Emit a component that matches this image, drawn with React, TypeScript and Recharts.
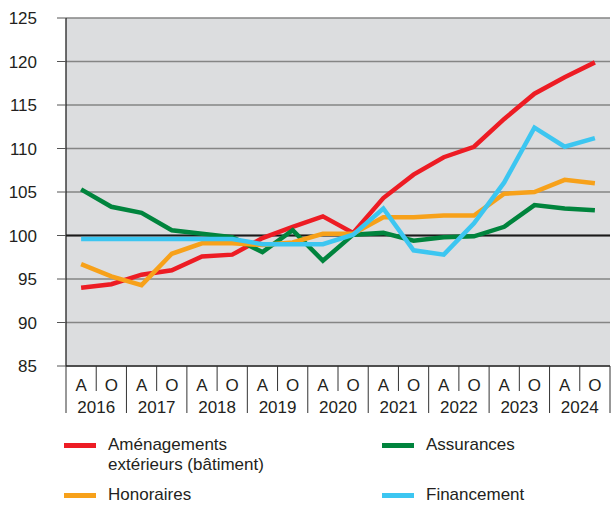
import React from "react";
import { LineChart, Line, XAxis, YAxis, CartesianGrid, ReferenceLine } from "recharts";

const years = ["2016", "2017", "2018", "2019", "2020", "2021", "2022", "2023", "2024"];
const periods = ["A", "O"];
const yTicks = [85, 90, 95, 100, 105, 110, 115, 120, 125];

const amenagements = [94.0, 94.4, 95.5, 96.0, 97.6, 97.8, 99.7, 101.0, 102.2, 100.3, 104.3, 107.0, 109.0, 110.2, 113.4, 116.3, 118.2, 119.9];
const assurances = [105.3, 103.3, 102.6, 100.6, 100.2, 99.8, 98.1, 100.6, 97.1, 100.1, 100.3, 99.4, 99.8, 99.9, 101.0, 103.5, 103.1, 102.9];
const honoraires = [96.7, 95.3, 94.3, 97.9, 99.1, 99.1, 98.9, 99.2, 100.2, 100.2, 102.1, 102.1, 102.3, 102.3, 104.8, 105.0, 106.4, 106.0];
const financement = [99.6, 99.6, 99.6, 99.6, 99.6, 99.6, 99.0, 99.0, 99.0, 100.1, 103.1, 98.3, 97.8, 101.4, 106.1, 112.4, 110.2, 111.2];

const series = [
  { key: "amenagements", name: "Aménagements extérieurs (bâtiment)", color: "#ed1c24", values: amenagements },
  { key: "assurances", name: "Assurances", color: "#00843d", values: assurances },
  { key: "honoraires", name: "Honoraires", color: "#f7a11a", values: honoraires },
  { key: "financement", name: "Financement", color: "#3cc6f1", values: financement },
];

const data = years.flatMap((y, yi) =>
  periods.map((p, pi) => {
    const i = yi * 2 + pi;
    const row: any = { key: y + "-" + p, period: p, year: y };
    series.forEach((s) => (row[s.key] = s.values[i]));
    return row;
  })
);

const W = 615;
const H = 506;
const M = { top: 18, right: 5, left: 0, bottom: 90 };
const YW = 66;
const BW = (W - YW - M.left - M.right) / data.length;
const FONT = "'Liberation Sans', Arial, sans-serif";
const TXT = "#231f20";

const XTick = (props: any) => {
  const { x, y, payload, index } = props;
  const [year, period] = String(payload.value).split("-");
  const isStart = period === "A";
  const last = index === data.length - 1;
  return (
    <g>
      <line x1={x - BW / 2} x2={x - BW / 2} y1={y} y2={y + (isStart ? 47 : 25)} stroke="#333" strokeWidth={1} />
      {last && <line x1={x + BW / 2} x2={x + BW / 2} y1={y} y2={y + 47} stroke="#333" strokeWidth={1} />}
      <text x={x} y={y + 24.7} textAnchor="middle" fontSize={17} fontFamily={FONT} fill={TXT}>
        {period}
      </text>
      {isStart && (
        <text x={x + BW / 2} y={y + 47.3} textAnchor="middle" fontSize={17} fontFamily={FONT} fill={TXT}>
          {year}
        </text>
      )}
    </g>
  );
};

const legendItems = [
  { s: series[0], x: 64, y: 445, lines: ["Aménagements", "extérieurs (bâtiment)"] },
  { s: series[1], x: 382, y: 445, lines: ["Assurances"] },
  { s: series[2], x: 64, y: 495, lines: ["Honoraires"] },
  { s: series[3], x: 382, y: 495, lines: ["Financement"] },
];

export default function App() {
  return (
    <div style={{ position: "absolute", left: 0, top: 0, width: W, height: H, background: "#fff" }}>
      <LineChart width={W} height={H} data={data} margin={M}>
        <CartesianGrid vertical={false} horizontal={true} fill="#dcdddf" stroke="#858585" strokeWidth={1.3} />
        <XAxis
          dataKey="key"
          scale="band"
          interval={0}
          tickLine={false}
          tickSize={0}
          tickMargin={0}
          height={50}
          axisLine={{ stroke: "#333", strokeWidth: 1.3 }}
          tick={<XTick />}
        />
        <YAxis
          width={YW}
          domain={[85, 125]}
          ticks={yTicks}
          type="number"
          allowDataOverflow
          tickSize={9}
          tickMargin={20}
          tickLine={{ stroke: "#555" }}
          axisLine={{ stroke: "#222", strokeWidth: 1.3 }}
          tick={{ fontSize: 17, fontFamily: FONT, fill: TXT }}
        />
        <ReferenceLine y={100} stroke="#1a1a1a" strokeWidth={2} />
        {series.map((s) => (
          <Line
            key={s.key}
            type="linear"
            dataKey={s.key}
            name={s.name}
            stroke={s.color}
            strokeWidth={4.5}
            dot={false}
            activeDot={false}
            isAnimationActive={false}
          />
        ))}
      </LineChart>
      {legendItems.map((it) => (
        <div key={it.s.key}>
          <div
            style={{
              position: "absolute",
              left: it.x,
              top: it.y - 2.5,
              width: 32,
              height: 5,
              background: it.s.color,
            }}
          />
          <div
            style={{
              position: "absolute",
              left: it.x + 44,
              top: it.y - 10,
              fontFamily: FONT,
              fontSize: 17,
              lineHeight: "20px",
              color: TXT,
              whiteSpace: "nowrap",
            }}
          >
            {it.lines.map((l) => (
              <div key={l}>{l}</div>
            ))}
          </div>
        </div>
      ))}
    </div>
  );
}
